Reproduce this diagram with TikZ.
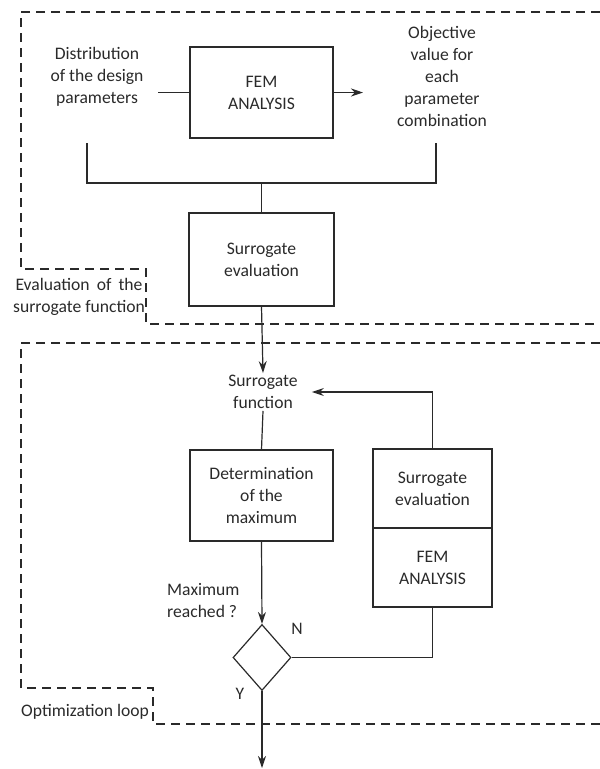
\documentclass[tikz,border=0pt]{standalone}
\usepackage{fontspec}
\setmainfont{Carlito}
\usetikzlibrary{shapes.geometric,arrows.meta}
\definecolor{ink}{HTML}{2A2A2A}
\begin{document}
\begin{tikzpicture}[x=1pt,y=-1pt,
  every node/.style={text=ink,font=\fontsize{17.6}{22}\selectfont},
  txt/.style={align=center,inner sep=2pt},
  box/.style={draw=ink,line width=1.2pt,align=center,inner sep=0pt},
  ln/.style={draw=ink,line width=1.2pt},
  arr/.style={ln,-{Stealth[length=12pt,width=8pt,inset=4pt]}},
  dsh/.style={draw=ink,line width=1.2pt,dash pattern=on 9pt off 6pt}]
\useasboundingbox (0,0) rectangle (600,769);
% dashed frames
\draw[dsh] (600,12) -- (21,12) -- (21,269) -- (146,269) -- (146,324) -- (600,324);
\draw[dsh] (600,343) -- (21,343) -- (21,688) -- (153,688) -- (153,724) -- (600,724);
% nodes
\node[txt] (dist) at (97,77) {Distribution\\of the design\\parameters};
\node[box,minimum width=143,minimum height=91] (fem1) at (261.5,92.5) {FEM\\ANALYSIS};
\node[txt] (obj) at (442,76) {Objective\\value for\\each\\parameter\\combination};
\node[box,minimum width=145,minimum height=93] (sev1) at (261.5,259.5) {Surrogate\\evaluation};
\node[txt,anchor=north west,inner sep=0pt] (evl) at (13,278) {\makebox[127pt][s]{Evaluation of the}\\surrogate function};
\node[txt] (sfun) at (263,392) {Surrogate\\function};
\node[box,minimum width=143,minimum height=91] (det) at (261.5,495.5) {Determination\\of the\\maximum};
\node[box,minimum width=119,minimum height=79] (sev2) at (432.5,488.5) {Surrogate\\evaluation};
\node[box,minimum width=119,minimum height=79] (fem2) at (432.5,567.5) {FEM\\ANALYSIS};
\node[draw=ink,line width=1.2pt,diamond,minimum width=58,minimum height=66,inner sep=0pt] (dec) at (262,657.5) {};
\node[txt,anchor=west,align=left,inner sep=0pt] (maxq) at (167,601) {Maximum\\reached ?};
\node[txt] (nlab) at (297,629) {N};
\node[txt] (ylab) at (240,694) {Y};
\node[txt,anchor=west,inner sep=0pt] (optl) at (21,712) {Optimization loop};
% coordinates
\coordinate (din) at (158,92.5);
\coordinate (oin) at (363,92.5);
\coordinate (bLt) at (87,143);
\coordinate (bLb) at (87,183);
\coordinate (bRt) at (436,143);
\coordinate (bRb) at (436,183);
\coordinate (fin) at (262,768);
% connectors
\draw[ln] (din) -- (fem1.west);
\draw[arr] (fem1.east) -- (oin);
\draw[ln] (bLt) -- (bLb) -- (bRb) -- (bRt);
\draw[ln] (sev1.north |- bLb) -- (sev1.north);
\draw[arr] (sev1.south) -- (sfun.north);
\draw[arr,shorten >=12pt] (sev2.north) |- (sfun.east);
\draw[ln] (sfun.south) -- (det.north);
\draw[arr] (det.south) -- (dec.north);
\draw[ln] (fem2.south) |- (dec.east);
\draw[arr] (dec.south) -- (fin);
\end{tikzpicture}
\end{document}
